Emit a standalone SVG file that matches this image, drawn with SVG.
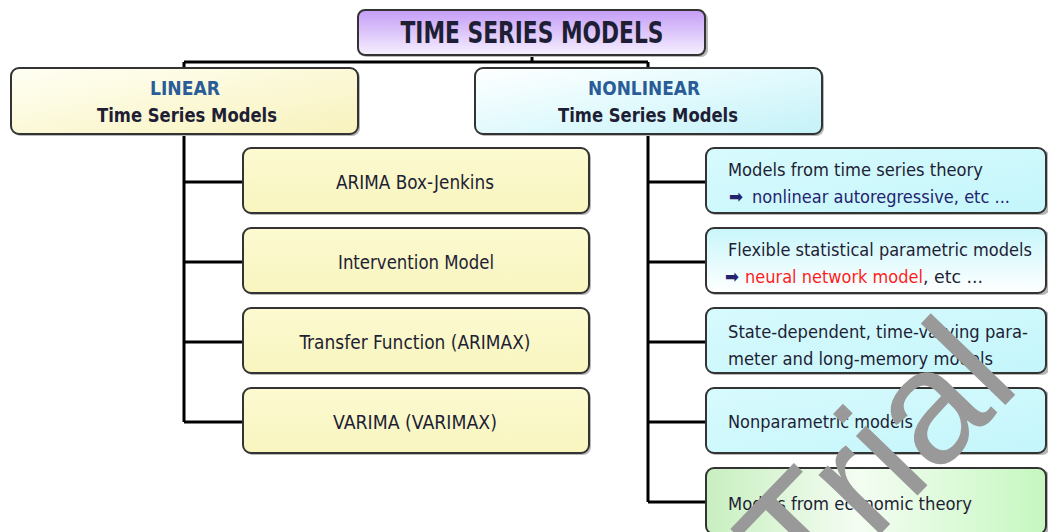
<svg xmlns="http://www.w3.org/2000/svg" width="1048" height="532" viewBox="0 0 1048 532">
<defs>
<linearGradient id="gTitle" x1="0" y1="0" x2="0" y2="1">
<stop offset="0" stop-color="#c49cf6"/>
<stop offset="1" stop-color="#f6f0ff"/>
</linearGradient>
<linearGradient id="gLin" x1="0" y1="0" x2="1" y2="1">
<stop offset="0" stop-color="#fffff4"/>
<stop offset="1" stop-color="#f8f2bc"/>
</linearGradient>
<linearGradient id="gNon" x1="0" y1="0" x2="1" y2="1">
<stop offset="0" stop-color="#ffffff"/>
<stop offset="0.5" stop-color="#e2fafd"/>
<stop offset="1" stop-color="#c4f2f8"/>
</linearGradient>
<linearGradient id="gYel" x1="0" y1="0" x2="0" y2="1">
<stop offset="0" stop-color="#fcfad0"/>
<stop offset="1" stop-color="#f8f5c0"/>
</linearGradient>
<linearGradient id="gCyan" x1="0" y1="0" x2="1" y2="1">
<stop offset="0" stop-color="#d8fafd"/>
<stop offset="1" stop-color="#c4f6fb"/>
</linearGradient>
<linearGradient id="gCyan2" x1="0" y1="0" x2="0" y2="1">
<stop offset="0" stop-color="#c8f6fb"/>
<stop offset="1" stop-color="#ffffff"/>
</linearGradient>
<linearGradient id="gGreen" x1="0" y1="0" x2="1" y2="0">
<stop offset="0" stop-color="#c8efc0"/>
<stop offset="0.45" stop-color="#f4fdf2"/>
<stop offset="1" stop-color="#c6f7c0"/>
</linearGradient>
</defs>
<style>
.box{stroke:#333;stroke-width:2}
.sh{fill:#b8b8b8}
.con{fill:none;stroke:#000;stroke-width:3}
.t{font-family:"DejaVu Sans Condensed","DejaVu Sans","Liberation Sans",sans-serif;font-stretch:condensed;fill:#1e1e34}
.c{text-anchor:middle;font-size:19.5px}
.l{font-size:18.5px}
.hd{font-size:19px;font-weight:bold;text-anchor:middle}
.blue{fill:#2a5d98}
.navy{fill:#23236e}
.red{fill:#ff1c1c}
.wm{font-family:"Liberation Sans",Arial,sans-serif;font-size:162px;fill:#999999}
</style>
<rect width="1048" height="532" fill="#ffffff"/>

<g id="connectors">
<path class="con" d="M532,55 V62 M184,62 H648 M184,62 V68 M648,62 V68"/>
<path class="con" d="M184,135 V422 M184,182 H243 M184,262 H243 M184,342 H243 M184,422 H243"/>
<path class="con" d="M648,135 V502 M648,182 H706 M648,262 H706 M648,342 H706 M648,422 H706 M648,502 H706"/>
</g>

<g id="title">
<rect class="sh" x="360" y="12" width="348" height="45" rx="7"/>
<rect class="box" x="358" y="10" width="347" height="45" rx="7" fill="url(#gTitle)"/>
<text class="t" x="532" y="43" font-size="30" font-weight="bold" text-anchor="middle" fill="#16163c" textLength="263" lengthAdjust="spacingAndGlyphs">TIME SERIES MODELS</text>
</g>

<g id="linear">
<rect class="sh" x="13" y="70" width="347" height="66" rx="8"/>
<rect class="box" x="11" y="68" width="347" height="66" rx="8" fill="url(#gLin)"/>
<text class="t hd blue" x="185" y="95" textLength="70" lengthAdjust="spacingAndGlyphs">LINEAR</text>
<text class="t hd" x="187" y="122" textLength="180" lengthAdjust="spacingAndGlyphs">Time Series Models</text>
</g>

<g id="nonlinear">
<rect class="sh" x="477" y="70" width="347" height="66" rx="8"/>
<rect class="box" x="475" y="68" width="347" height="66" rx="8" fill="url(#gNon)"/>
<text class="t hd blue" x="644" y="95" textLength="112" lengthAdjust="spacingAndGlyphs">NONLINEAR</text>
<text class="t hd" x="648" y="122" textLength="180" lengthAdjust="spacingAndGlyphs">Time Series Models</text>
</g>

<g id="arima">
<rect class="sh" x="245" y="150" width="346" height="65" rx="8"/>
<rect class="box" x="243" y="148" width="346" height="65" rx="8" fill="url(#gYel)"/>
<text class="t c" x="415" y="189" textLength="158" lengthAdjust="spacingAndGlyphs">ARIMA Box-Jenkins</text>
</g>
<g id="intervention">
<rect class="sh" x="245" y="230" width="346" height="65" rx="8"/>
<rect class="box" x="243" y="228" width="346" height="65" rx="8" fill="url(#gYel)"/>
<text class="t c" x="416" y="269" textLength="156" lengthAdjust="spacingAndGlyphs">Intervention Model</text>
</g>
<g id="transfer">
<rect class="sh" x="245" y="310" width="346" height="65" rx="8"/>
<rect class="box" x="243" y="308" width="346" height="65" rx="8" fill="url(#gYel)"/>
<text class="t c" x="415" y="349" textLength="231" lengthAdjust="spacingAndGlyphs">Transfer Function (ARIMAX)</text>
</g>
<g id="varima">
<rect class="sh" x="245" y="390" width="346" height="65" rx="8"/>
<rect class="box" x="243" y="388" width="346" height="65" rx="8" fill="url(#gYel)"/>
<text class="t c" x="415" y="429" textLength="164" lengthAdjust="spacingAndGlyphs">VARIMA (VARIMAX)</text>
</g>

<g id="ts-theory">
<rect class="sh" x="708" y="150" width="342" height="65" rx="8"/>
<rect class="box" x="706" y="148" width="340" height="65" rx="8" fill="url(#gCyan)"/>
<text class="t l" x="728" y="176" textLength="255" lengthAdjust="spacingAndGlyphs">Models from time series theory</text>
<text class="t l navy" x="729" y="203">➡</text>
<text class="t l navy" x="752" y="203" textLength="258" lengthAdjust="spacingAndGlyphs">nonlinear autoregressive, etc ...</text>
</g>
<g id="flexible">
<rect class="sh" x="708" y="230" width="342" height="65" rx="8"/>
<rect class="box" x="706" y="228" width="340" height="65" rx="8" fill="url(#gCyan2)"/>
<text class="t l" x="728" y="256" textLength="304" lengthAdjust="spacingAndGlyphs">Flexible statistical parametric models</text>
<text class="t l navy" x="725" y="283">➡</text>
<text class="t l red" x="745" y="283" textLength="178" lengthAdjust="spacingAndGlyphs">neural network model</text>
<text class="t l" x="923" y="283" textLength="60" lengthAdjust="spacingAndGlyphs">, etc ...</text>
</g>
<g id="state-dep">
<rect class="sh" x="708" y="310" width="342" height="65" rx="8"/>
<rect class="box" x="706" y="308" width="340" height="65" rx="8" fill="url(#gCyan)"/>
<text class="t l" x="728" y="338" textLength="300" lengthAdjust="spacingAndGlyphs">State-dependent, time-varying para-</text>
<text class="t l" x="728" y="365" textLength="265" lengthAdjust="spacingAndGlyphs">meter and long-memory models</text>
</g>
<g id="nonparam">
<rect class="sh" x="708" y="390" width="342" height="65" rx="8"/>
<rect class="box" x="706" y="388" width="340" height="65" rx="8" fill="url(#gCyan)"/>
<text class="t l" x="728" y="428" textLength="185" lengthAdjust="spacingAndGlyphs">Nonparametric models</text>
</g>
<g id="economic">
<rect class="sh" x="708" y="470" width="342" height="66" rx="8"/>
<rect class="box" x="706" y="468" width="340" height="66" rx="8" fill="url(#gGreen)"/>
<text class="t l" x="728" y="510" textLength="244" lengthAdjust="spacingAndGlyphs">Models from economic theory</text>
</g>

<text class="wm" x="808" y="609" transform="rotate(-46 808 609)">Trial</text>
</svg>
